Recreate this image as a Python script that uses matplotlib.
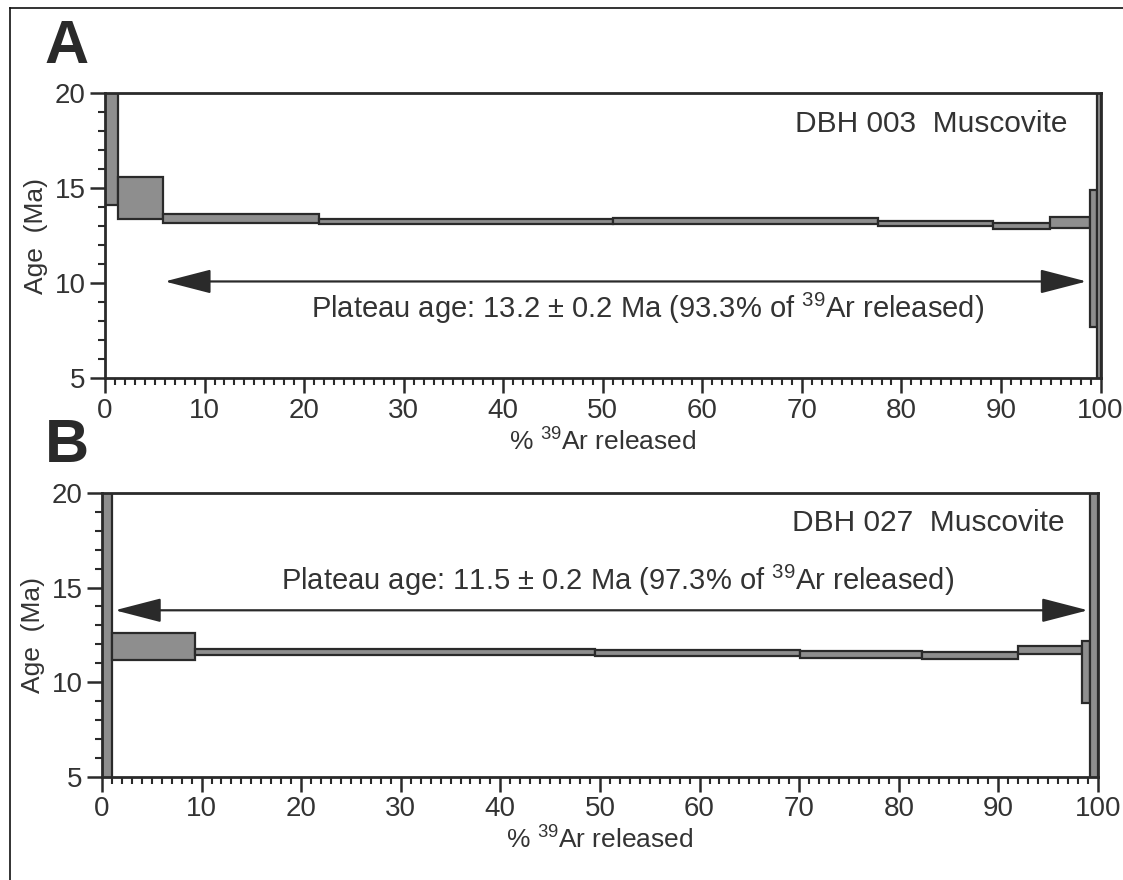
import numpy as np
import matplotlib
matplotlib.use("Agg")
import matplotlib.pyplot as plt
from matplotlib.ticker import MultipleLocator
from matplotlib.lines import Line2D

matplotlib.rcParams['font.family'] = ['Liberation Sans', 'DejaVu Sans']
matplotlib.rcParams['mathtext.fontset'] = 'custom'
matplotlib.rcParams['mathtext.rm'] = 'Liberation Sans'
matplotlib.rcParams['mathtext.it'] = 'Liberation Sans'

INK = '#2a2a2a'
FILL = '#8e8e8e'
TXT = '#333333'

# ── Panel A: DBH 003 muscovite step heating ──
a_cum = [0, 1.3, 5.8, 21.5, 51.0, 77.6, 89.2, 94.9, 98.9, 99.6, 100]
a_lo = [14.1, 13.4, 13.2, 13.1, 13.1, 13.0, 12.85, 12.9, 7.7, 0.0]
a_hi = [25.0, 15.6, 13.65, 13.4, 13.45, 13.3, 13.2, 13.5, 14.9, 30.0]
a_sample = "DBH 003  Muscovite"
a_plateau = "Plateau age: 13.2 \u00b1 0.2 Ma (93.3% of $^{39}$Ar released)"
a_arrow = (6.0, 98.6, 10.1)

# ── Panel B: DBH 027 muscovite step heating ──
b_cum = [0, 1.0, 9.3, 49.5, 70.1, 82.3, 92.0, 98.4, 99.2, 100]
b_lo = [0.0, 11.2, 11.45, 11.4, 11.3, 11.25, 11.5, 8.9, 0.0]
b_hi = [30.0, 12.6, 11.75, 11.7, 11.65, 11.6, 11.9, 12.2, 30.0]
b_sample = "DBH 027  Muscovite"
b_plateau = "Plateau age: 11.5 \u00b1 0.2 Ma (97.3% of $^{39}$Ar released)"
b_arrow = (1.3, 99.0, 13.8)


def draw_spectrum(ax, cum, lo, hi, sample, plateau, arrow, text_xy):
    cum = np.array(cum)
    lo = np.array(lo)
    hi = np.array(hi)
    ax.bar(cum[:-1], hi - lo, np.diff(cum), bottom=lo, align='edge',
           color=FILL, edgecolor=INK, linewidth=1.6, zorder=3)

    ax.set_xlim(0, 100)
    ax.set_ylim(5, 20)
    ax.xaxis.set_major_locator(MultipleLocator(10))
    ax.xaxis.set_minor_locator(MultipleLocator(1))
    ax.yaxis.set_major_locator(MultipleLocator(5))
    ax.yaxis.set_minor_locator(MultipleLocator(1))
    ax.tick_params(which='major', direction='out', length=11, width=1.8,
                   color=INK, labelsize=20, labelcolor=TXT, pad=3)
    ax.tick_params(which='minor', direction='out', length=5, width=1.5, color=INK)
    for s in ax.spines.values():
        s.set_linewidth(2.0)
        s.set_color(INK)
        s.set_zorder(4)

    ax.set_ylabel("Age  (Ma)", fontsize=19, color=TXT, labelpad=5)
    ax.set_xlabel("% $^{39}$Ar released", fontsize=19, color=TXT, labelpad=3)

    ax.text(96.7, 18.4, sample, ha='right', va='center', fontsize=21.5, color=TXT)
    x0, x1, y = arrow
    ax.annotate('', xy=(x0, y), xytext=(x1, y),
                arrowprops=dict(arrowstyle='<|-|>,head_length=2.9,head_width=0.75',
                                color=INK, lw=1.6, shrinkA=0, shrinkB=0,
                                mutation_scale=10))
    ax.text(text_xy[0], text_xy[1], plateau,
            ha='center', va='center', fontsize=21, color=TXT)


fig = plt.figure(figsize=(11.23, 8.8), dpi=100)

ax_a = fig.add_axes([0.0935, 0.570, 0.8865, 0.324])
draw_spectrum(ax_a, a_cum, a_lo, a_hi, a_sample, a_plateau, a_arrow, (54.5, 8.7))

ax_b = fig.add_axes([0.0908, 0.117, 0.8869, 0.323])
draw_spectrum(ax_b, b_cum, b_lo, b_hi, b_sample, b_plateau, b_arrow, (51.8, 15.4))

fig.text(0.040, 0.978, "A", fontsize=44, fontweight='bold', color=INK, va='top', ha='left')
fig.text(0.040, 0.525, "B", fontsize=44, fontweight='bold', color=INK, va='top', ha='left')

# thin outer frame (top and left edges of the original figure)
fig.add_artist(Line2D([0.009, 1.0], [0.991, 0.991], color='#111111', lw=1.2,
                      transform=fig.transFigure))
fig.add_artist(Line2D([0.009, 0.009], [0.0, 0.991], color='#111111', lw=1.2,
                      transform=fig.transFigure))

fig.savefig("out.png", dpi=100)
print("saved out.png")
